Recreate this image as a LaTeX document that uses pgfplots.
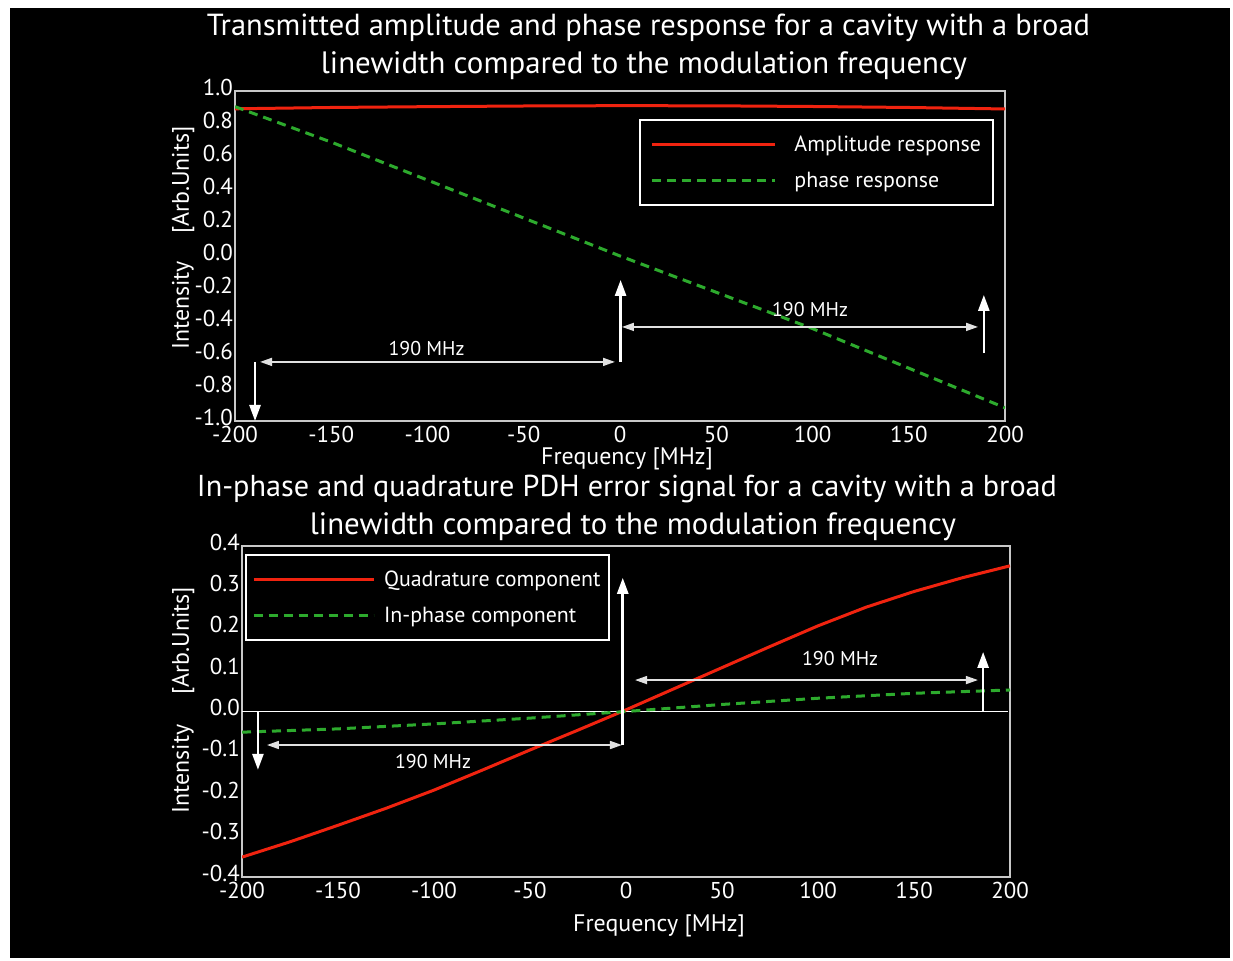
\documentclass[border=0pt]{standalone}
\usepackage{fontspec}
\setmainfont{PT Sans}
\usepackage{pgfplots}
\pgfplotsset{compat=1.18}
\usetikzlibrary{arrows.meta}

\definecolor{ampred}{RGB}{240,35,15}
\definecolor{phgreen}{RGB}{45,170,45}
\definecolor{framegray}{RGB}{200,200,200}
\definecolor{annot}{RGB}{225,225,225}

\tikzset{
  amp/.style={ampred, line width=3bp},
  pha/.style={phgreen, line width=3bp, dash pattern=on 9bp off 6bp},
  varr/.style={white, line width=2.6bp, -{Triangle[width=11bp,length=16bp]}},
  harr/.style={annot, line width=1.6bp,
    {Triangle[width=8bp,length=12bp]}-{Triangle[width=8bp,length=12bp]}},
  mhz/.style={text=white, font=\fontsize{20}{22}\selectfont},
  lab/.style={text=white, font=\fontsize{24}{26}\selectfont},
}

\pgfplotsset{
  cavity/.style={
    scale only axis,
    xmin=-200, xmax=200,
    xtick={-200,-150,-100,-50,0,50,100,150,200},
    axis line style={draw=framegray, line width=1.8bp},
    major tick length=0pt,
    tick label style={text=white, font=\fontsize{23}{25}\selectfont},
    /pgf/number format/assume math mode=true,
    yticklabel style={/pgf/number format/fixed, /pgf/number format/fixed zerofill,
      /pgf/number format/precision=1, inner xsep=2bp, inner ysep=1bp, yshift=4bp},
    xticklabel style={/pgf/number format/fixed, /pgf/number format/precision=0,
      inner ysep=1bp, yshift=-4bp},
    legend style={draw=white, line width=2bp, fill=black, text=white,
      font=\fontsize{22}{24}\selectfont, cells={anchor=west},
      inner xsep=10bp, inner ysep=14bp, row sep=15bp, column sep=16bp},
    legend image code/.code={\draw[#1] (0bp,0bp) -- (123bp,0bp);},
  },
}

\begin{document}
\begin{tikzpicture}[x=1bp, y=1bp]
% page and dark panel
\fill[white] (0,0) rectangle (1233,961);
\fill[black] (10,3) rectangle (1230,953);

% ---------- transmitted amplitude and phase ----------
\node[text=white] at (648.5,933) {\resizebox{883bp}{!}{\fontsize{30}{32}\selectfont Transmitted amplitude and phase response for a cavity with a broad}};
\node[text=white] at (644,895) {\resizebox{646bp}{!}{\fontsize{30}{32}\selectfont linewidth compared to the modulation frequency}};

\begin{axis}[cavity,
  at={(235bp,540bp)}, anchor=south west,
  width=770bp, height=330bp,
  ymin=-1, ymax=1,
  ytick={-1,-0.8,-0.6,-0.4,-0.2,0,0.2,0.4,0.6,0.8,1},
  legend style={at={(0.9857,0.915)}, anchor=north east},
]
\addplot[amp] coordinates {
  (-200,0.892) (-150,0.900) (-100,0.905) (-50,0.909) (0,0.911)
  (50,0.910) (100,0.906) (150,0.900) (200,0.891)};
\addlegendentry{Amplitude response}
\addplot[pha] coordinates {
  (-200,0.905) (-150,0.69) (-100,0.46) (-50,0.23) (0,0.0)
  (50,-0.22) (100,-0.44) (150,-0.68) (200,-0.92)};
\addlegendentry{phase response}

% sideband spacing markers
\draw[harr] (axis cs:-187,-0.642) -- (axis cs:-2.6,-0.642);
\draw[varr] (axis cs:-189.6,-0.642) -- (axis cs:-189.6,-1.0);
\draw[varr] (axis cs:0.3,-0.642) -- (axis cs:0.3,-0.145);
\draw[harr] (axis cs:1,-0.43) -- (axis cs:186,-0.43);
\draw[varr] (axis cs:189,-0.588) -- (axis cs:189,-0.236);
\node[mhz] at (axis cs:-100.5,-0.56) {190 MHz};
\node[mhz] at (axis cs:98.7,-0.327) {190 MHz};
\end{axis}

\node[lab] at (627,502) {Frequency [MHz]};
\node[lab, rotate=90] at (183,723) {Intensity\hspace{27bp}[Arb.Units]};

% ---------- PDH error signal ----------
\node[text=white] at (627,472) {\resizebox{860bp}{!}{\fontsize{30}{32}\selectfont In-phase and quadrature PDH error signal for a cavity with a broad}};
\node[text=white] at (633,434) {\resizebox{646bp}{!}{\fontsize{30}{32}\selectfont linewidth compared to the modulation frequency}};

\begin{axis}[cavity,
  at={(242bp,84bp)}, anchor=south west,
  width=768bp, height=331bp,
  ymin=-0.4, ymax=0.4,
  ytick={-0.4,-0.3,-0.2,-0.1,0,0.1,0.2,0.3,0.4},
  legend style={at={(0.004,0.976)}, anchor=north west,
    inner xsep=6bp, column sep=7bp},
  legend image code/.code={\draw[#1] (0bp,0bp) -- (120bp,0bp);},
]
\draw[white, line width=1.6bp] (axis cs:-200,0) -- (axis cs:199,0);
\addplot[amp] coordinates {
  (-200,-0.352) (-175,-0.315) (-150,-0.275) (-125,-0.234) (-100,-0.190)
  (-75,-0.142) (-50,-0.093) (-25,-0.045) (0,0.004) (25,0.055) (50,0.106)
  (75,0.157) (100,0.207) (125,0.252) (150,0.290) (175,0.323) (200,0.352)};
\addlegendentry{Quadrature component}
\addplot[pha] coordinates {
  (-200,-0.050) (-150,-0.042) (-100,-0.030) (-50,-0.016) (0,0.0)
  (50,0.017) (100,0.032) (150,0.044) (200,0.052)};
\addlegendentry{In-phase component}

\draw[varr] (axis cs:-191.7,0) -- (axis cs:-191.7,-0.141);
\draw[harr] (axis cs:-187,-0.081) -- (axis cs:-2.1,-0.081);
\draw[varr] (axis cs:-1.7,-0.081) -- (axis cs:-1.7,0.323);
\draw[harr] (axis cs:4.7,0.076) -- (axis cs:183.3,0.076);
\draw[varr] (axis cs:186,0) -- (axis cs:186,0.144);
\node[mhz] at (axis cs:-100.5,-0.122) {190 MHz};
\node[mhz] at (axis cs:111.5,0.129) {190 MHz};
\end{axis}

\node[lab] at (659,35) {Frequency [MHz]};
\node[lab, rotate=90] at (183,261) {Intensity\hspace{30bp}[Arb.Units]};
\end{tikzpicture}
\end{document}
